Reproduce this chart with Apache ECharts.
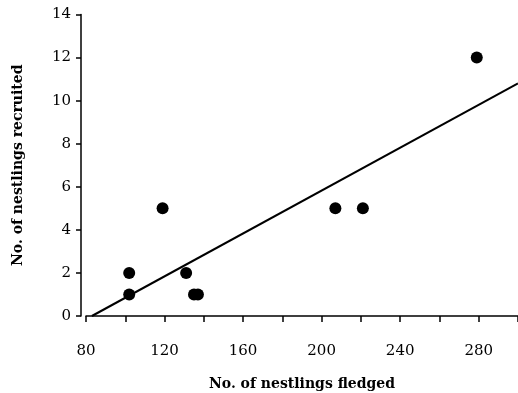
<!DOCTYPE html>
<html>
<head>
<meta charset="utf-8">
<script src="https://cdn.jsdelivr.net/npm/echarts@6/dist/echarts.min.js"></script>
<style>
html, body { margin: 0; padding: 0; background: #fff; }
#chart { width: 518px; height: 393px; }
</style>
</head>
<body>
<div id="chart"></div>
<script>
// observed broods
var fledged = [102, 102, 119, 131, 135, 137, 207, 221, 279];
var recruited = [1, 2, 5, 2, 1, 1, 5, 5, 12];
// regression line end points
var fitX = [83, 300];
var fitY = [0, 10.8];
var xLabels = [80, 120, 160, 200, 240, 280];

var fontFam = '"DejaVu Serif", "Liberation Serif", serif';

var myChart = echarts.init(document.getElementById('chart'));
var option = {
	animation: false,
	grid: {
		left: 86,
		right: 0,
		top: 14.5,
		bottom: 77,
		outerBoundsMode: 'none'
	},
	xAxis: {
		type: 'value',
		min: 80,
		max: 300,
		interval: 20,
		offset: 11,
		name: 'No. of nestlings fledged',
		nameLocation: 'middle',
		nameGap: 50,
		nameTextStyle: { fontFamily: fontFam, fontWeight: 'bold', fontSize: 14, color: '#000' },
		axisLine: { lineStyle: { color: '#000', width: 1.5 } },
		axisTick: { length: 6, lineStyle: { color: '#000', width: 1.5 } },
		axisLabel: {
			margin: 17,
			fontFamily: fontFam,
			fontSize: 15,
			color: '#000',
			formatter: function(v) {
				return xLabels.indexOf(v) >= 0 ? String(v) : '';
			}
		},
		splitLine: { show: false }
	},
	yAxis: {
		type: 'value',
		min: 0,
		max: 14,
		interval: 2,
		offset: 5,
		name: 'No. of nestlings recruited',
		nameLocation: 'middle',
		nameGap: 56,
		nameTextStyle: { fontFamily: fontFam, fontWeight: 'bold', fontSize: 14, color: '#000' },
		axisLine: { show: true, lineStyle: { color: '#000', width: 1.5 } },
		axisTick: { show: true, length: 5, lineStyle: { color: '#000', width: 1.5 } },
		axisLabel: { margin: 10, fontFamily: fontFam, fontSize: 15, color: '#000' },
		splitLine: { show: false }
	},
	series: [
		{
			name: 'fit',
			type: 'line',
			showSymbol: false,
			symbol: 'none',
			data: fitX.map(function(x, i) { return [x, fitY[i]]; }),
			lineStyle: { color: '#000', width: 2 },
			z: 2
		},
		{
			name: 'broods',
			type: 'scatter',
			symbolSize: 12,
			data: fledged.map(function(x, i) { return [x, recruited[i]]; }),
			itemStyle: { color: '#000', opacity: 1 },
			z: 3
		}
	]
};
myChart.setOption(option);
</script>
</body>
</html>
